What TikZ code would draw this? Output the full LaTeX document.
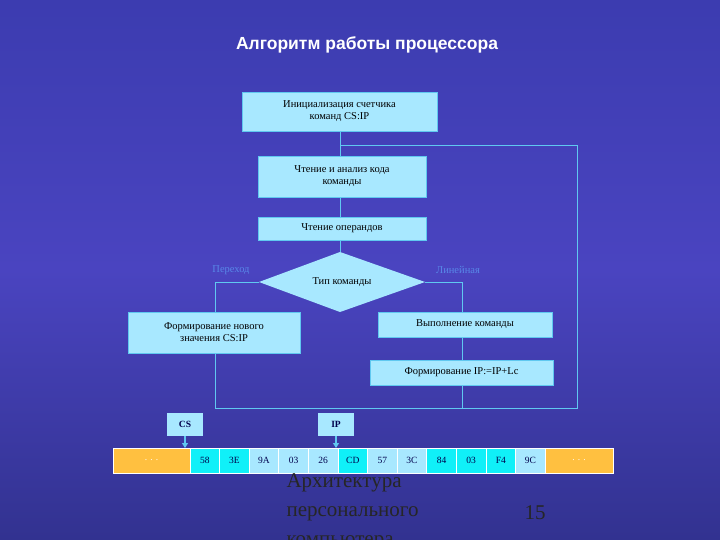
\documentclass[tikz,border=0pt]{standalone}
\usepackage{fontspec}
\setmainfont{Liberation Serif}
\newfontfamily\titlefont{Liberation Sans}
\usetikzlibrary{shapes.geometric,arrows.meta}
\definecolor{bgtop}{HTML}{3C3CB0}
\definecolor{bgmid}{HTML}{4A44C0}
\definecolor{bgbot}{HTML}{323290}
\definecolor{boxc}{HTML}{A8E8FF}
\definecolor{cyanc}{HTML}{10F0F8}
\definecolor{linec}{HTML}{60C8F0}
\definecolor{orc}{HTML}{FFC040}
\definecolor{lblc}{HTML}{5888E8}
\begin{document}
\begin{tikzpicture}[x=1pt,y=-1pt,
  fbox/.style={draw=linec,fill=boxc,text=black,font=\fontsize{10.5}{12}\selectfont,align=center,inner sep=0pt},
  conn/.style={draw=linec,line width=0.7pt},
  cell/.style={draw=white,line width=0.8pt,font=\fontsize{9.5}{11}\selectfont,minimum height=25pt,inner sep=0pt,text=black!70!blue},
  reg/.style={fill=boxc,font=\bfseries\fontsize{9.5}{11}\selectfont,text=black!70!blue,minimum width=36pt,minimum height=23pt,inner sep=0pt}]
\shade[top color=bgtop,bottom color=bgbot,middle color=bgmid] (0,0) rectangle (720,540);
\useasboundingbox (0,0) rectangle (720,540);
\node[text=white,font=\titlefont\bfseries\fontsize{17.5}{20}\selectfont] (title) at (367,45) {Алгоритм работы процессора};
\node[fbox,minimum width=195pt,minimum height=39pt] (b1) at (339.5,111.5) {Инициализация счетчика\\команд CS:IP};
\node[fbox,minimum width=168pt,minimum height=41pt] (b2) at (342,176.5) {Чтение и анализ кода\\команды};
\node[fbox,minimum width=168pt,minimum height=23pt] (b3) at (342,228.5) {Чтение операндов};
\fill[boxc] (259,282) -- (340,252) -- (425,282) -- (340,312) -- cycle;
\node[font=\fontsize{10.5}{12}\selectfont,minimum width=166pt,minimum height=60pt,inner sep=0pt] (d) at (342,282) {Тип команды};
\node[fbox,minimum width=172pt,minimum height=41pt] (bl) at (214,332.5) {Формирование нового\\значения CS:IP};
\node[fbox,minimum width=174pt,minimum height=25pt] (br1) at (465,324.5) {Выполнение команды};
\node[fbox,minimum width=183pt,minimum height=25pt] (br2) at (461.5,372.5) {Формирование IP:=IP+Lc};
\node[text=lblc,font=\fontsize{10.5}{12}\selectfont] (lp) at (231,270) {Переход};
\node[text=lblc,font=\fontsize{10.5}{12}\selectfont] (ll) at (458,270) {Линейная};
\coordinate (j) at (340,145);
\draw[conn] (b1.south -| j) -- (b2.north -| j);
\draw[conn] (b2.south -| j) -- (b3.north -| j);
\draw[conn] (b3.south -| j) -- (d.north -| j);
\draw[conn] (d.west) -- (215,282) -- (bl.north -| 215,0);
\draw[conn] (bl.south -| 215,0) -- (215,408) -- (577,408) |- (j);
\draw[conn] (d.east) -- (462,282) -- (br1.north -| 462,0);
\draw[conn] (br1.south -| 462,0) -- (br2.north -| 462,0);
\draw[conn] (br2.south -| 462,0) -- (462,408);
% memory
\node[cell,fill=orc,minimum width=77pt,text=white] (m0) at (151.5,460.5) {. . .};
\foreach \t/\c [count=\i] in {58/cyanc,3E/cyanc,9A/boxc,03/boxc,26/boxc,CD/cyanc,57/boxc,3C/boxc,84/cyanc,03/cyanc,F4/cyanc,9C/boxc}{
  \node[cell,fill=\c,minimum width=29.6pt] (m\i) at ({190+29.6*(\i-0.5)},460.5) {\t};
}
\node[cell,fill=orc,minimum width=68pt,text=white] (m13) at (579,460.5) {. . .};
\node[reg] (cs) at (185,424.5) {CS};
\node[reg] (ip) at (336,424.5) {IP};
\draw[linec,line width=1.2pt,-{Triangle[length=5pt,width=6pt]}] (cs.south) -- (185,448);
\draw[linec,line width=1.2pt,-{Triangle[length=5pt,width=6pt]}] (ip.south) -- (336,448);
\node[anchor=north west,align=left,font=\fontsize{21}{29}\selectfont,text=black!85] (foot) at (283,470) {Архитектура\\персонального\\компьютера};
\node[font=\fontsize{21}{24}\selectfont,text=black!85] (pg) at (535,513) {15};
\end{tikzpicture}
\end{document}
